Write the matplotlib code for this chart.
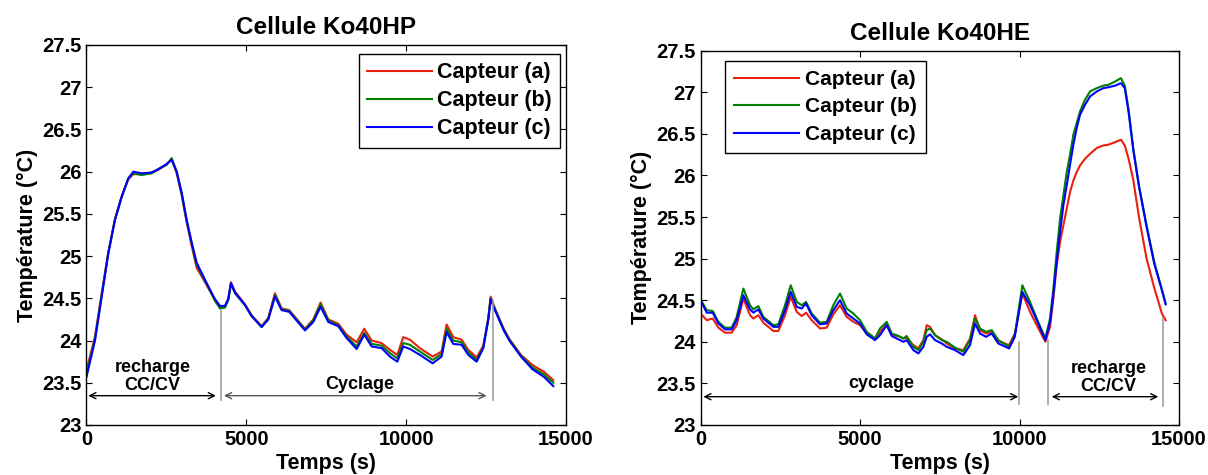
import numpy as np
import matplotlib
matplotlib.use('Agg')
from matplotlib import pyplot as plt

plt.rcParams['font.family'] = ['Liberation Sans', 'DejaVu Sans']
plt.rcParams['font.weight'] = 'bold'

labels = ['Capteur (a)', 'Capteur (b)', 'Capteur (c)']
colors = ['#e8200c', '#008000', '#0000ff']

# Cellule Ko40HP
t_hp = [0, 266, 475, 683, 891, 1100, 1308, 1465, 1725, 2039, 2247, 2508, 2665, 2822,
        2978, 3134, 3291, 3447, 3603, 3812, 4020, 4176, 4332, 4436, 4520, 4645, 4958,
        5166, 5480, 5688, 5896, 6105, 6344, 6522, 6835, 7095, 7325, 7564, 7877, 8138,
        8451, 8690, 8921, 9234, 9494, 9723, 9910, 10119, 10432, 10829, 11110, 11267,
        11475, 11736, 11944, 12206, 12413, 12569, 12644, 12779, 13054, 13228, 13593,
        13952, 14311, 14605]
hp_a = [23.65, 24.05, 24.56, 25.05, 25.44, 25.71, 25.91, 25.97, 25.97, 25.99, 26.02, 26.09,
        26.15, 25.98, 25.72, 25.40, 25.12, 24.86, 24.76, 24.62, 24.48, 24.40, 24.40, 24.50,
        24.69, 24.58, 24.43, 24.30, 24.17, 24.27, 24.56, 24.38, 24.36, 24.28, 24.14, 24.25,
        24.45, 24.25, 24.20, 24.07, 23.98, 24.14, 24.00, 23.97, 23.89, 23.83, 24.04, 24.01,
        23.91, 23.81, 23.87, 24.19, 24.04, 24.01, 23.89, 23.80, 23.94, 24.27, 24.52, 24.38,
        24.14, 24.02, 23.83, 23.71, 23.63, 23.53]
hp_b = [23.60, 24.02, 24.53, 25.04, 25.43, 25.70, 25.92, 25.98, 25.96, 25.98, 26.03, 26.08,
        26.16, 26.00, 25.74, 25.42, 25.15, 24.90, 24.78, 24.63, 24.47, 24.38, 24.39, 24.48,
        24.67, 24.56, 24.42, 24.29, 24.16, 24.26, 24.54, 24.37, 24.35, 24.27, 24.13, 24.24,
        24.43, 24.24, 24.18, 24.05, 23.93, 24.09, 23.96, 23.94, 23.85, 23.79, 23.97, 23.95,
        23.87, 23.77, 23.84, 24.14, 24.00, 23.98, 23.86, 23.77, 23.92, 24.25, 24.50, 24.37,
        24.13, 24.01, 23.82, 23.68, 23.60, 23.50]
hp_c = [23.57, 24.00, 24.52, 25.03, 25.43, 25.70, 25.92, 26.00, 25.98, 25.99, 26.03, 26.09,
        26.14, 26.00, 25.75, 25.43, 25.16, 24.92, 24.80, 24.64, 24.49, 24.41, 24.41, 24.49,
        24.68, 24.57, 24.42, 24.29, 24.16, 24.25, 24.52, 24.36, 24.34, 24.26, 24.12, 24.22,
        24.40, 24.22, 24.17, 24.03, 23.90, 24.07, 23.93, 23.91, 23.81, 23.75, 23.93, 23.90,
        23.83, 23.73, 23.81, 24.10, 23.96, 23.95, 23.83, 23.75, 23.91, 24.24, 24.49, 24.36,
        24.12, 24.00, 23.81, 23.66, 23.57, 23.46]

# Cellule Ko40HE
t_he = [0, 194, 382, 559, 768, 978, 1134, 1343, 1552, 1656, 1813, 1969, 2283, 2440, 2649,
        2828, 3016, 3172, 3307, 3485, 3746, 3955, 4163, 4373, 4583, 4791, 5000, 5210, 5470,
        5627, 5837, 5994, 6202, 6359, 6463, 6672, 6828, 6985, 7091, 7195, 7352, 7561, 7718,
        7978, 8239, 8449, 8606, 8762, 8950, 9129, 9336, 9673, 9852, 10089, 10330, 10540,
        10811, 10957, 11061, 11166, 11271, 11375, 11480, 11584, 11688, 11793, 11897, 12054,
        12211, 12421, 12628, 12785, 13000, 13180, 13300, 13420, 13565, 13744, 13984, 14223,
        14463, 14582]
he_a = [24.34, 24.26, 24.28, 24.17, 24.11, 24.11, 24.20, 24.52, 24.32, 24.28, 24.32, 24.23,
        24.13, 24.13, 24.32, 24.54, 24.36, 24.31, 24.35, 24.26, 24.16, 24.17, 24.33, 24.44,
        24.30, 24.24, 24.20, 24.10, 24.04, 24.12, 24.21, 24.08, 24.07, 24.04, 24.05, 23.96,
        23.92, 24.02, 24.20, 24.18, 24.08, 24.03, 23.98, 23.92, 23.90, 24.04, 24.32, 24.14,
        24.10, 24.12, 24.01, 23.96, 24.10, 24.58, 24.36, 24.20, 24.00, 24.18, 24.52, 24.92,
        25.20, 25.40, 25.60, 25.80, 25.94, 26.04, 26.12, 26.20, 26.26, 26.33, 26.36, 26.37,
        26.40, 26.43, 26.36, 26.20, 25.95, 25.50, 25.00, 24.65, 24.34, 24.26]
he_b = [24.51, 24.38, 24.37, 24.24, 24.17, 24.17, 24.30, 24.64, 24.44, 24.39, 24.43, 24.30,
        24.20, 24.21, 24.44, 24.68, 24.48, 24.44, 24.48, 24.34, 24.23, 24.24, 24.44, 24.58,
        24.40, 24.34, 24.26, 24.12, 24.04, 24.16, 24.24, 24.10, 24.07, 24.04, 24.07, 23.94,
        23.90, 24.00, 24.14, 24.16, 24.08, 24.02, 24.00, 23.93, 23.88, 24.02, 24.28, 24.16,
        24.12, 24.14, 24.02, 23.94, 24.08, 24.68, 24.48, 24.28, 24.04, 24.28, 24.64, 25.08,
        25.48, 25.76, 26.04, 26.25, 26.49, 26.63, 26.77, 26.91, 27.01, 27.05, 27.08, 27.09,
        27.13, 27.17, 27.08, 26.79, 26.33, 25.88, 25.40, 24.96, 24.63, 24.46]
he_c = [24.50, 24.35, 24.35, 24.22, 24.15, 24.15, 24.26, 24.56, 24.39, 24.35, 24.39, 24.28,
        24.18, 24.18, 24.38, 24.60, 24.42, 24.40, 24.46, 24.32, 24.21, 24.22, 24.38, 24.50,
        24.34, 24.28, 24.22, 24.09, 24.02, 24.08, 24.20, 24.07, 24.03, 24.00, 24.02, 23.90,
        23.86, 23.94, 24.06, 24.09, 24.02, 23.98, 23.94, 23.90, 23.84, 23.96, 24.22, 24.10,
        24.06, 24.10, 23.98, 23.92, 24.06, 24.60, 24.44, 24.26, 24.02, 24.24, 24.56, 24.96,
        25.32, 25.64, 25.88, 26.13, 26.37, 26.57, 26.73, 26.85, 26.95, 27.01, 27.05, 27.06,
        27.08, 27.11, 27.05, 26.76, 26.31, 25.87, 25.38, 24.94, 24.62, 24.45]

fig = plt.figure(figsize=(12.08, 4.75), dpi=100)
ax1 = fig.add_axes([0.0716, 0.1053, 0.3969, 0.80])
ax2 = fig.add_axes([0.5799, 0.1053, 0.3961, 0.788])


def style(ax, title):
    ax.set_xlim(0, 15000)
    ax.set_ylim(23, 27.5)
    ax.set_xticks([0, 5000, 10000, 15000])
    ax.set_yticks(np.arange(23, 27.51, 0.5))
    ax.set_yticklabels(['23', '23.5', '24', '24.5', '25', '25.5', '26', '26.5', '27', '27.5'])
    ax.tick_params(direction='in', top=True, right=True, length=4, width=0.8,
                   labelsize=14.5, pad=3.5)
    for lab in ax.get_xticklabels() + ax.get_yticklabels():
        lab.set_fontweight('bold')
    for s in ax.spines.values():
        s.set_linewidth(1.0)
    ax.set_title(title, fontsize=17.5, fontweight='bold', pad=8)
    ax.set_xlabel('Temps (s)', fontsize=15.5, fontweight='bold', labelpad=3)
    ax.set_ylabel('Température (°C)', fontsize=15.5, fontweight='bold', labelpad=3)


def arrow(ax, t1, t2, y, c='k'):
    ax.annotate('', xy=(t2, y), xytext=(t1, y),
                arrowprops=dict(arrowstyle='<->', color=c, lw=1.0, shrinkA=0, shrinkB=0,
                                mutation_scale=11))


for vals, c, lab in zip([hp_a, hp_b, hp_c], colors, labels):
    ax1.plot(t_hp, vals, color=c, lw=1.5, label=lab)
style(ax1, 'Cellule Ko40HP')
leg = ax1.legend(loc='upper right', bbox_to_anchor=(0.9875, 0.976), fontsize=15.5,
                 handlelength=3.0, handletextpad=0.25, labelspacing=0.33, borderpad=0.38,
                 fancybox=False, edgecolor='k', framealpha=1, borderaxespad=0)
leg.get_frame().set_linewidth(1.0)
for txt in leg.get_texts():
    txt.set_fontweight('bold')

ax1.plot([4208, 4208], [23.29, 24.36], color='#a0a0a0', lw=1.2)
ax1.plot([12707, 12707], [23.29, 24.47], color='#a0a0a0', lw=1.2)
arrow(ax1, 56, 4051, 23.347)
arrow(ax1, 4301, 12519, 23.347, '#555555')
ax1.text(2058, 23.575, 'recharge\nCC/CV', ha='center', va='center', fontsize=13,
         fontweight='bold', linespacing=1.05)
ax1.text(8534, 23.485, 'Cyclage', ha='center', va='center', fontsize=13, fontweight='bold')

for vals, c, lab in zip([he_a, he_b, he_c], colors, labels):
    ax2.plot(t_he, vals, color=c, lw=1.5, label=lab)
style(ax2, 'Cellule Ko40HE')
leg = ax2.legend(loc='upper left', bbox_to_anchor=(0.051, 0.973), fontsize=15,
                 handlelength=3.1, handletextpad=0.3, labelspacing=0.4, borderpad=0.45,
                 fancybox=False, edgecolor='k', framealpha=1, borderaxespad=0)
leg.get_frame().set_linewidth(1.0)
for txt in leg.get_texts():
    txt.set_fontweight('bold')

ax2.plot([9994, 9994], [23.25, 24.0], color='#a0a0a0', lw=1.2)
ax2.plot([10884, 10884], [23.25, 24.02], color='#a0a0a0', lw=1.2)
ax2.plot([14508, 14508], [23.23, 24.29], color='#a0a0a0', lw=1.2)
arrow(ax2, 88, 9962, 23.34)
arrow(ax2, 11009, 14351, 23.34)
ax2.text(5680, 23.5, 'cyclage', ha='center', va='center', fontsize=13, fontweight='bold')
ax2.text(12784, 23.57, 'recharge\nCC/CV', ha='center', va='center', fontsize=13,
         fontweight='bold', linespacing=1.05)

fig.savefig('out.png', dpi=100)
